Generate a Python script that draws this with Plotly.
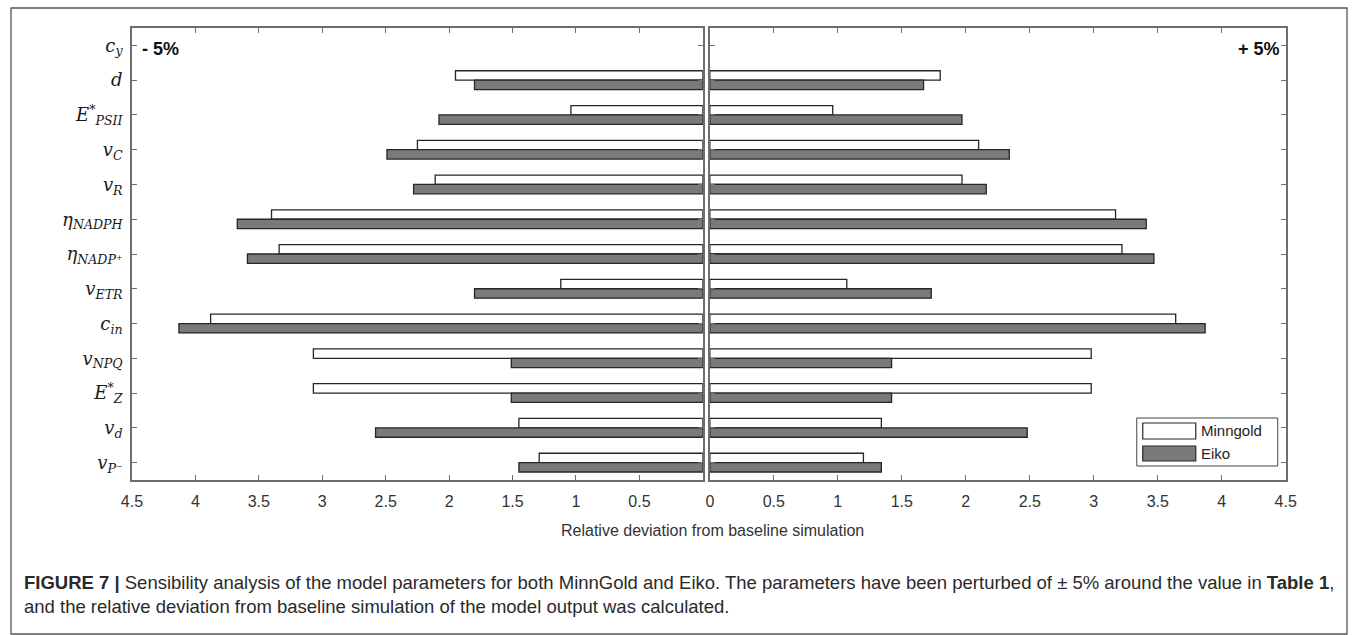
import plotly.graph_objects as go

# ---------------- data ----------------
params = [
    "<i>c</i><sub><i>y</i></sub>",
    "<i>d</i>",
    "<i>E</i><sup>*</sup><sub><i>PSII</i></sub>",
    "<i>v</i><sub><i>C</i></sub>",
    "<i>v</i><sub><i>R</i></sub>",
    "<i>η</i><sub><i>NADPH</i></sub>",
    "<i>η</i><sub><i>NADP</i>⁺</sub>",
    "<i>v</i><sub><i>ETR</i></sub>",
    "<i>c</i><sub><i>in</i></sub>",
    "<i>v</i><sub><i>NPQ</i></sub>",
    "<i>E</i><sup>*</sup><sub><i>Z</i></sub>",
    "<i>v</i><sub><i>d</i></sub>",
    "<i>v</i><sub><i>P</i>⁻</sub>",
]
minngold_minus = [None, 1.95, 1.04, 2.25, 2.11, 3.40, 3.34, 1.12, 3.88, 3.07, 3.07, 1.45, 1.29]
eiko_minus     = [None, 1.80, 2.08, 2.49, 2.28, 3.67, 3.59, 1.80, 4.13, 1.51, 1.51, 2.58, 1.45]
minngold_plus  = [None, 1.80, 0.96, 2.10, 1.97, 3.17, 3.22, 1.07, 3.64, 2.98, 2.98, 1.34, 1.20]
eiko_plus      = [None, 1.67, 1.97, 2.34, 2.16, 3.41, 3.47, 1.73, 3.87, 1.42, 1.42, 2.48, 1.34]

left_ticks = [0.5, 1, 1.5, 2, 2.5, 3, 3.5, 4, 4.5]
left_labels = ["0.5", "1", "1.5", "2", "2.5", "3", "3.5", "4", "4.5"]
right_ticks = [0, 0.5, 1, 1.5, 2, 2.5, 3, 3.5, 4, 4.5]
right_labels = ["0", "0.5", "1", "1.5", "2", "2.5", "3", "3.5", "4", "4.5"]
series_names = ["Minngold", "Eiko"]

W, H = 1358, 635


def px(v):
    # horizontal layout position (reference pixels -> paper fraction)
    return min(max((v - 10) / 0.984 / W, 0), 1)


def py(v):
    return 1 - v / H


WHITE = "#ffffff"
GREY = "#7a7a7a"
EDGE = "#262626"
AXC = "#6e6e6e"
SANS = "Liberation Sans, Arial"

fig = go.Figure()

for name, vals, col, xa, ya in [
    (series_names[0], minngold_minus, WHITE, "x", "y"),
    (series_names[1], eiko_minus, GREY, "x", "y"),
    (series_names[0], minngold_plus, WHITE, "x2", "y2"),
    (series_names[1], eiko_plus, GREY, "x2", "y2"),
]:
    fig.add_trace(go.Bar(
        y=params, x=vals, orientation="h", name=name,
        marker=dict(color=col, line=dict(color=EDGE, width=1.3)),
        xaxis=xa, yaxis=ya, showlegend=False,
        hoverinfo="x+y",
    ))

axis_common = dict(
    showline=True, linecolor=AXC, linewidth=1.6, mirror="ticks",
    ticks="inside", ticklen=5, tickcolor=AXC, tickwidth=1,
    showgrid=False, zeroline=False,
)
xfont = dict(family=SANS, size=16, color="#333333")

fig.update_layout(
    width=W, height=H,
    margin=dict(l=0, r=0, t=0, b=0),
    paper_bgcolor="white", plot_bgcolor="white",
    barmode="group", bargap=0.46, bargroupgap=0.0,
    showlegend=False,
    xaxis=dict(domain=[px(131), px(702)], range=[4.5, 0], anchor="y",
               tickvals=left_ticks, ticktext=left_labels, tickfont=xfont,
               ticklabelstandoff=6, **axis_common),
    xaxis2=dict(domain=[px(709), px(1285)], range=[0, 4.5], anchor="y2",
                tickvals=right_ticks, ticktext=right_labels, tickfont=xfont,
                ticklabelstandoff=6, **axis_common),
    yaxis=dict(domain=[py(480), py(28)], anchor="x", autorange="reversed",
               categoryorder="array", categoryarray=params,
               tickfont=dict(family="DejaVu Serif, Liberation Serif, serif", size=18, color="#1a1a1a"),
               ticklabelstandoff=4, **axis_common),
    yaxis2=dict(domain=[py(480), py(28)], anchor="x2", autorange="reversed",
                categoryorder="array", categoryarray=params, showticklabels=False,
                **axis_common),
    shapes=[
        # outer frame of figure + caption
        dict(type="rect", xref="paper", yref="paper",
             x0=px(6), x1=px(1352), y0=py(634), y1=py(8),
             line=dict(color="#555555", width=1.3), fillcolor="rgba(0,0,0,0)", layer="below"),
        # legend box and swatches
        dict(type="rect", xref="paper", yref="paper",
             x0=px(1136), x1=px(1277), y0=py(466), y1=py(418),
             line=dict(color="#444444", width=1), fillcolor="white"),
        dict(type="rect", xref="paper", yref="paper",
             x0=px(1142), x1=px(1195), y0=py(439), y1=py(423),
             line=dict(color=EDGE, width=1.2), fillcolor=WHITE),
        dict(type="rect", xref="paper", yref="paper",
             x0=px(1142), x1=px(1195), y0=py(461), y1=py(446),
             line=dict(color=EDGE, width=1.2), fillcolor=GREY),
    ],
    annotations=[
        dict(text=series_names[0], xref="paper", yref="paper", x=px(1198), y=py(431),
             xanchor="left", yanchor="middle", showarrow=False,
             font=dict(family=SANS, size=15, color="#222222")),
        dict(text=series_names[1], xref="paper", yref="paper", x=px(1198), y=py(453),
             xanchor="left", yanchor="middle", showarrow=False,
             font=dict(family=SANS, size=15, color="#222222")),
        dict(text="<b>- 5%</b>", xref="paper", yref="paper", x=px(139), y=py(49),
             xanchor="left", yanchor="middle", showarrow=False,
             font=dict(family=SANS, size=18, color="#111111")),
        dict(text="<b>+ 5%</b>", xref="paper", yref="paper", x=px(1281), y=py(49),
             xanchor="right", yanchor="middle", showarrow=False,
             font=dict(family=SANS, size=18, color="#111111")),
        dict(text="Relative deviation from baseline simulation", xref="paper", yref="paper",
             x=px(712), y=py(530), xanchor="center", yanchor="middle", showarrow=False,
             font=dict(family=SANS, size=16, color="#333333")),
        dict(text="<b>FIGURE 7 |</b> Sensibility analysis of the model parameters for both MinnGold and Eiko. "
                  "The parameters have been perturbed of ± 5% around the value in <b>Table 1</b>,",
             xref="paper", yref="paper", x=px(21), y=py(582), xanchor="left", yanchor="middle",
             showarrow=False,
             font=dict(family=SANS, size=18.5, color="#2a2a2a")),
        dict(text="and the relative deviation from baseline simulation of the model output was calculated.",
             xref="paper", yref="paper", x=px(21), y=py(606), xanchor="left", yanchor="middle",
             showarrow=False,
             font=dict(family=SANS, size=18.5, color="#2a2a2a")),
    ],
)

fig.write_html("out.html", config={"displayModeBar": False},
               post_script="document.body.style.margin='0';")
